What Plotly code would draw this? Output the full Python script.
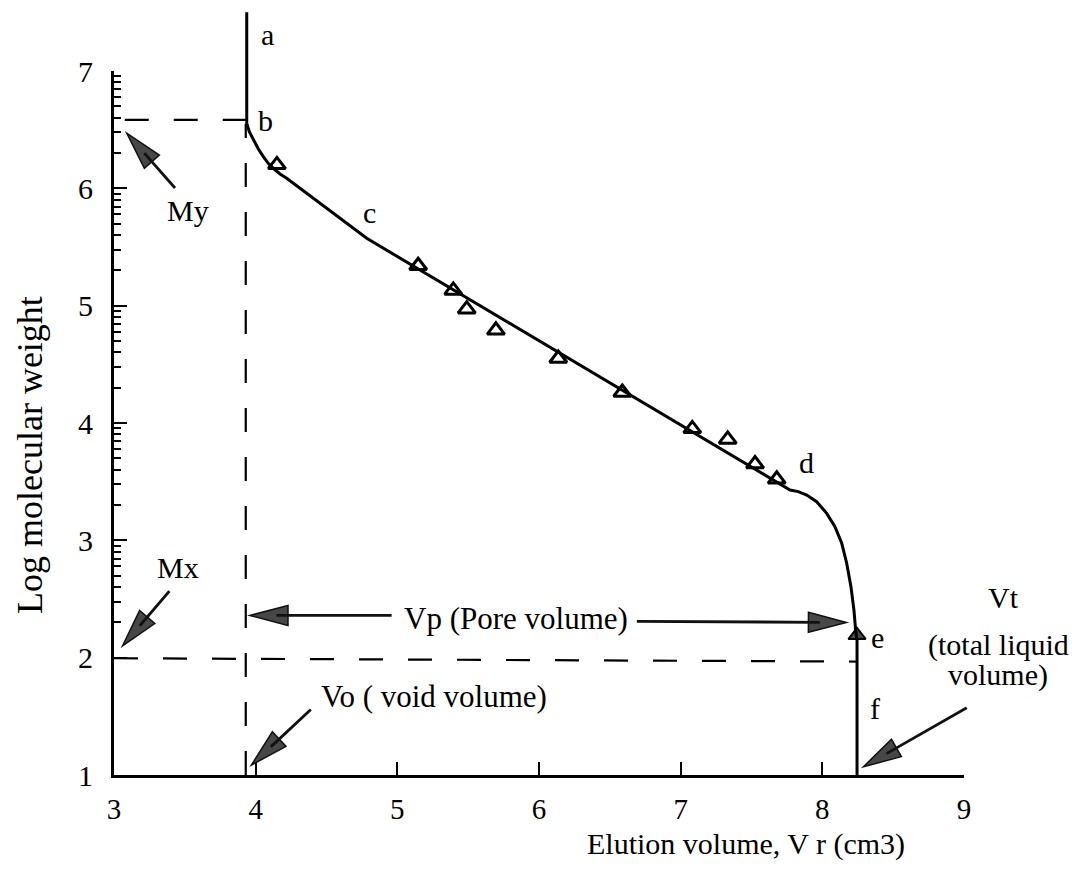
import math
import plotly.graph_objects as go

# ---------------- data ----------------
# calibration curve (elution volume, log M)
curve_x = [3.937, 3.937, 3.955, 3.983, 4.019, 4.054, 4.089, 4.124, 4.172, 4.219, 4.784,
           7.772, 7.830, 7.890, 7.960, 8.031, 8.089, 8.137, 8.172, 8.202, 8.223, 8.235, 8.245, 8.245]
curve_y = [7.50, 6.554, 6.483, 6.412, 6.335, 6.270, 6.213, 6.171, 6.122, 6.086, 5.574,
           3.429, 3.415, 3.386, 3.329, 3.230, 3.116, 2.975, 2.805, 2.605, 2.406, 2.236, 2.15, 1.0]

# calibration standards (open triangles)
std_x = [4.15, 5.147, 5.395, 5.49, 5.696, 6.136, 6.588, 7.082, 7.332, 7.525, 7.678]
std_y = [6.20, 5.34, 5.13, 4.97, 4.79, 4.55, 4.26, 3.95, 3.86, 3.65, 3.52]

# point e (filled triangle)
e_x = [8.245]
e_y = [2.19]

# reference dashed lines
my_x = [3.937, 3.0]
my_y = [6.583, 6.583]
mx_x = [3.0, 8.245]
mx_y = [1.995, 1.967]
vo_x = [3.93, 3.93]
vo_y = [1.0, 6.55]

x_ticks = [3, 4, 5, 6, 7, 8, 9]
y_ticks = [1, 2, 3, 4, 5, 6, 7]
minor_decades = [2, 3, 4, 5, 6]

# ---------------- layout constants ----------------
W, H = 1079, 869
OFF = 8                                         # default body margin of the page
ML, MR, MT, MB = 114, 115, 12, 94               # wanted margins in the viewport
XR = [3, 9]
PX = (W - ML - MR) / (XR[1] - XR[0])           # px per x unit
PY = 704 / 6.0                                  # px per y unit
Y2TOP = 1 + (H - MT - MB) / PY
YDOM = 6.0 / (Y2TOP - 1)
PW = W - ML - MR
PH = H - MT - MB

FONT = "Liberation Serif, Times New Roman, serif"

fig = go.Figure()

dash = dict(color="black", width=2.2, dash="24px,25px")
fig.add_trace(go.Scatter(x=vo_x, y=vo_y, mode="lines", xaxis="x", yaxis="y2", line=dash, hoverinfo="skip"))
fig.add_trace(go.Scatter(x=my_x, y=my_y, mode="lines", xaxis="x", yaxis="y2", line=dash, hoverinfo="skip"))
fig.add_trace(go.Scatter(x=mx_x, y=mx_y, mode="lines", xaxis="x", yaxis="y2", line=dash, hoverinfo="skip"))
fig.add_trace(go.Scatter(x=curve_x, y=curve_y, mode="lines", xaxis="x", yaxis="y2",
                         line=dict(color="black", width=3), hoverinfo="skip"))
fig.add_trace(go.Scatter(x=std_x, y=std_y, mode="markers", xaxis="x", yaxis="y",
                         marker=dict(symbol="triangle-up-open", size=15, color="black",
                                     line=dict(width=3, color="black"))))
fig.add_trace(go.Scatter(x=e_x, y=e_y, mode="markers", xaxis="x", yaxis="y",
                         marker=dict(symbol="triangle-up", size=15, color="#4a4a4a",
                                     line=dict(width=2, color="black"))))

shapes = []
annotations = []


def add_arrow(tail, head, L=38, hw=10):
    dxp = (head[0] - tail[0]) * PX
    dyp = (head[1] - tail[1]) * PY
    n = math.hypot(dxp, dyp)
    ux, uy = dxp / n, dyp / n
    bx = head[0] - L * ux / PX
    by = head[1] - L * uy / PY
    p1 = (bx - hw * uy / PX, by + hw * ux / PY)
    p2 = (bx + hw * uy / PX, by - hw * ux / PY)
    shapes.append(dict(type="path", xref="x", yref="y2",
                       path=f"M{head[0]},{head[1]} L{p1[0]},{p1[1]} L{p2[0]},{p2[1]} Z",
                       fillcolor="#474747", line=dict(color="#111111", width=1.5)))
    annotations.append(dict(x=bx + 0.3 * L * ux / PX, y=by + 0.3 * L * uy / PY,
                            xref="x", yref="y2", ax=tail[0], ay=tail[1],
                            axref="x", ayref="y2", text="", showarrow=True,
                            arrowhead=0, arrowwidth=2.8, arrowcolor="#111111", standoff=0))


add_arrow((3.44, 5.99), (3.09, 6.47))     # My
add_arrow((3.40, 2.58), (3.06, 2.10))     # Mx
add_arrow((4.97, 2.36), (3.96, 2.36))     # Vp left
add_arrow((6.68, 2.31), (8.17, 2.30))     # Vp right
add_arrow((4.40, 1.57), (3.97, 1.085))    # Vo
add_arrow((9.03, 1.58), (8.29, 1.07))     # Vt


def txt(x, y, s, size=30, xref="x", yref="y2", angle=0):
    annotations.append(dict(x=x, y=y, xref=xref, yref=yref, text=s, showarrow=False,
                            xanchor="center", yanchor="middle", textangle=angle,
                            font=dict(family=FONT, size=size, color="black")))


txt(4.08, 7.31, "a")
txt(4.066, 6.58, "b")
txt(4.80, 5.79, "c")
txt(7.89, 3.66, "d")
txt(8.39, 2.17, "e")
txt(8.37, 1.57, "f")
txt(3.52, 5.815, "My")
txt(3.45, 2.77, "Mx")
txt(5.84, 2.33, "Vp (Pore volume)", size=31)
txt(5.26, 1.665, "Vo ( void volume)", size=31)
txt((1003 - ML) / PW, 2.517, "Vt", xref="paper")
txt((998 - ML) / PW, 2.108, "(total liquid", xref="paper")
txt((998 - ML) / PW, 1.852, "volume)", xref="paper")
txt(7.46, (775 - 844) / PH, "Elution volume, V r (cm3)", yref="paper")
txt((30 - ML) / PW, 3.727, "Log molecular weight", size=36, xref="paper", angle=-90)

minor_vals = [d + math.log10(k) for d in minor_decades for k in range(2, 10)]

fig.update_layout(
    template="none",
    width=W, height=H,
    margin=dict(l=ML - OFF, r=MR + OFF, t=MT - OFF, b=MB + OFF, autoexpand=False),
    paper_bgcolor="white", plot_bgcolor="rgba(0,0,0,0)",
    showlegend=False,
    font=dict(family=FONT, size=30, color="black"),
    xaxis=dict(range=XR, anchor="y", tickmode="array", tickvals=x_ticks,
               ticks="inside", ticklen=13, tickwidth=2.2, tickcolor="black",
               showline=True, linecolor="black", linewidth=3, automargin=False,
               showgrid=False, zeroline=False, ticklabelstandoff=6,
               tickfont=dict(family=FONT, size=29, color="black")),
    yaxis=dict(range=[1, 7], domain=[0, YDOM], anchor="x", tickmode="array", tickvals=y_ticks,
               ticks="inside", ticklen=13, tickwidth=2.2, tickcolor="black",
               showline=True, linecolor="black", linewidth=3, automargin=False,
               showgrid=False, zeroline=False, ticklabelstandoff=12,
               tickfont=dict(family=FONT, size=30, color="black"),
               minor=dict(tickmode="array", tickvals=minor_vals, ticks="inside",
                          ticklen=7, tickwidth=1.6, tickcolor="black", showgrid=False)),
    yaxis2=dict(range=[1, Y2TOP], domain=[0, 1], anchor="x", visible=False,
                showgrid=False, zeroline=False, automargin=False),
    shapes=shapes,
    annotations=annotations,
)

fig.write_html("out.html")
